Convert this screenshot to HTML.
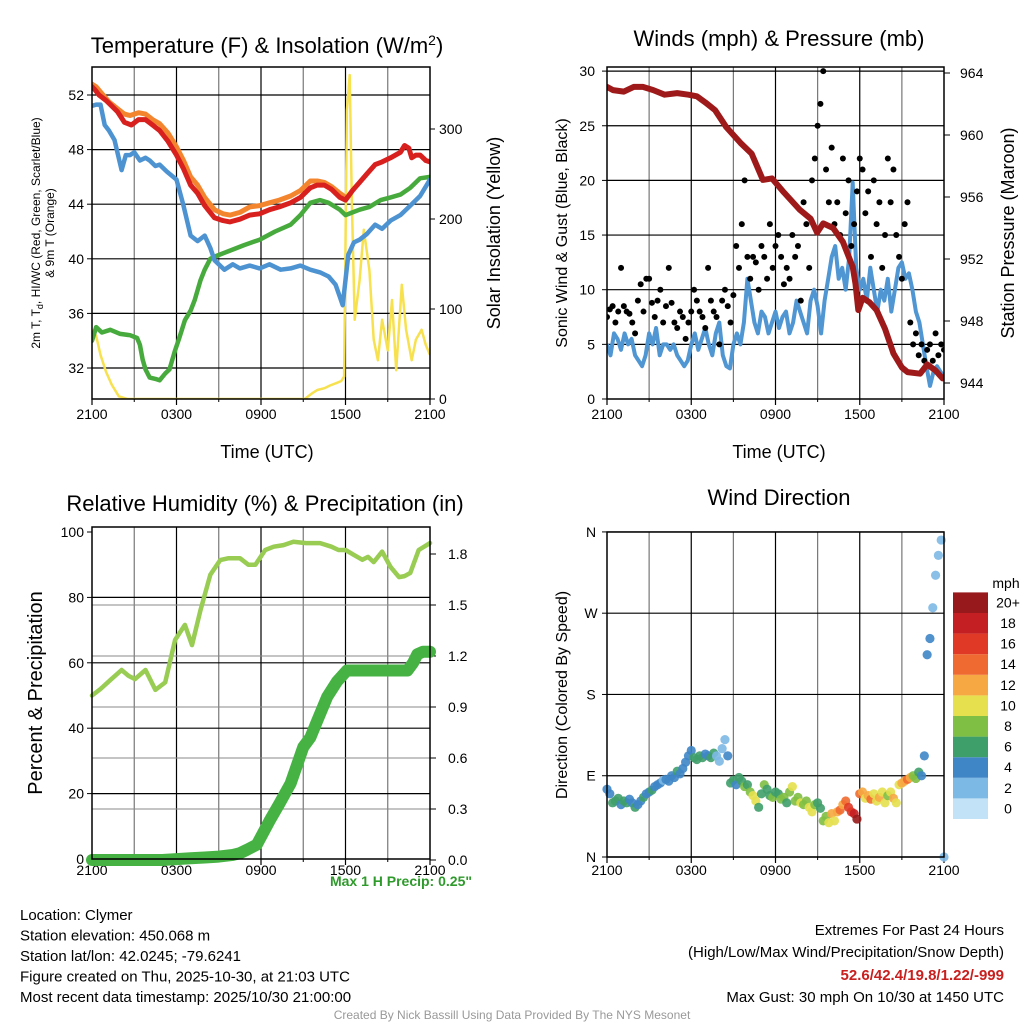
<!DOCTYPE html>
<html><head><meta charset="utf-8">
<style>
html,body{margin:0;padding:0;background:#fff;}
svg text{font-family:"Liberation Sans",Arial,sans-serif;}
</style></head>
<body>
<svg id="c" width="1024" height="1024" viewBox="0 0 1024 1024" xmlns="http://www.w3.org/2000/svg"></svg>
<script>
// ---- Temperature panel data (hours since 2100 UTC) ----
const redT=[0,0.2,0.5,1,1.3,1.8,2.3,2.8,3.3,3.8,4.3,4.8,5.4,6,6.5,7,7.5,8,8.7,9.3,9.8,10.5,11.2,11.9,12.6,13.3,14.1,14.8,15.5,16,16.5,17,17.6,18,18.5,19,19.5,20.1,20.6,21.2,21.9,22.2,22.5,22.7,23,23.3,23.7,24];
const redV=[52.6,52.4,52,51.6,51.3,50.8,50,49.8,50.2,50.2,49.8,49.4,48.6,47.6,46.6,45.4,44.8,43.9,43,42.8,42.7,42.9,43.2,43.3,43.6,43.8,44.1,44.5,45.2,45.4,45.4,45.1,44.5,44.3,45,45.6,46.2,46.9,47.1,47.4,47.8,48.3,48.1,47.4,47.6,47.6,47.2,47.1];
const orT=[0,0.3,0.7,1.2,1.8,2.3,2.7,3.3,3.8,4.3,4.8,5.4,6,6.5,7,7.5,8,8.7,9.3,9.8,10.5,11.2,11.9,12.6,13.3,14.1,14.8,15.5,16,16.5,17,17.6,18];
const orV=[52.8,52.6,52.1,51.5,51,50.6,50.5,50.7,50.6,50.2,49.9,49.2,48.2,47.2,46,45.4,44.5,43.6,43.3,43.2,43.4,43.8,43.9,44.1,44.3,44.6,45,45.7,45.7,45.6,45.3,44.8,44.5];
const dewT=[0,0.3,0.6,0.9,1.2,1.6,2.1,2.4,2.7,3,3.4,3.8,4.1,4.5,4.8,5.3,6,6.5,7,7.5,8,8.4,8.7,9.4,10,10.5,11.2,11.9,12.6,13.4,14.1,14.8,15.5,16.2,16.8,17.3,17.6,17.8,18.2,18.6,19,19.5,20.1,20.6,21.2,21.9,22.6,23.3,24];
const dewV=[51.2,51.3,51.3,49.8,49.4,48.7,46.5,47.6,47.6,47.8,47.2,47.4,47.2,46.8,46.9,46.4,45.8,43.9,41.7,41.3,41.7,40.8,39.9,39.2,39.6,39.3,39.5,39.3,39.6,39.2,39.3,39.5,39.2,39,38.7,38.1,37.2,36.6,40.3,41.2,41.4,41.8,42.5,42.2,42.8,43.2,43.9,44.6,45.8];
const hiT=[0,0.3,0.7,1.3,2,2.7,3.2,3.4,3.6,3.8,4.1,4.5,4.8,5.2,5.5,5.9,6.2,6.6,7,7.3,7.7,8,8.4,8.8,9.8,10.8,11.9,13,14.1,14.8,15.5,16.2,16.8,17.6,18,18.5,19,19.7,20.5,21.2,21.9,22.6,23.3,24];
const hiV=[34,35,34.6,34.8,34.5,34.4,34.2,33.7,32.6,31.9,31.3,31.2,31.1,31.6,31.9,33.3,34.2,35.5,36.2,37,38.4,39.2,40,40.2,40.6,41,41.4,42,42.5,43.2,44.1,44.3,44.1,43.6,43.2,43.4,43.6,43.8,44.3,44.5,44.7,45.2,45.9,46];
const solT=[0,0.3,0.6,1,1.4,1.9,2.5,15.1,15.6,16,16.5,16.9,17.4,17.7,17.9,18.1,18.3,18.45,18.65,19,19.3,19.7,20,20.3,20.6,21,21.3,21.6,22,22.3,22.7,23,23.4,23.7,24];
const solV=[77,70,49,30,16,3,0,0,6,10,12,15,18,20,25,321,360,221,88,132,188,143,66,43,88,54,110,32,127,77,43,66,77,60,49];
const tempTicks=[32,36,40,44,48,52];
const solTicks=[0,100,200,300];
const timeLabels=["2100","0300","0900","1500","2100"];
// ---- Wind panel data ----
const presT=[0,0.43,1.2,1.9,2.56,3.3,4.1,5,5.8,6.4,7,7.7,8.5,9.5,10.3,11.1,11.75,12.6,13.7,14.5,14.96,15.4,16.1,16.8,17.5,17.7,17.9,18.2,18.7,19.2,19.8,20.4,21,21.4,22.3,22.8,23.4,23.9];
const presV=[963.1,962.9,962.8,963.1,963.1,962.9,962.6,962.7,962.6,962.5,962.1,961.6,960.5,959.5,958.8,957.1,957.2,956.3,955.2,954.6,953.7,954.3,954,953.1,951.5,950.4,948.7,949.5,949.2,948.7,947.5,945.9,945,944.7,944.6,945.2,944.8,944.3];
// sonic wind every 0.25 h
const windV=[5,4,6,5.5,4.5,6,5,5.5,4,3.5,3,4,6,5,6.5,4,5,5,4.5,5,4,3.5,3,3.5,5,6,4.5,5.5,6.5,5,4,6,7,4,3,2.8,5,6,5,7,11,9,7,6,8,7.5,6,7,8,6.5,7.5,8,6,7,9,8,7,6,9,10,8.5,6,9,11,13,14,11,12,10,13,19.8,12,10,11,9,12,10,8,10,9,11,8,10,12,12.5,11,11.5,10,8,7,5,3,1.2,2.5,3,2.5,2];
const gustV=[7.5,8.2,8.5,7,8,12,8.5,8,7.8,7,6,9,10.5,8,11,11,8.8,7.5,9,10,7,8.5,12,8.8,7,6.5,8,7.5,5.5,7,8,10,9,8,7.5,6.5,12,9,8,7.5,5,9,10,8.5,7,9.5,14,12,16,20,13,11,13,12.5,10,14,13,11,16,12,14,15,13,10.5,12,11,15,13,14,9,18,16,12,20,22,25,27,30,21,18,23,16,18,15,22,17,20,14,16,19,22,21,17,19,13,20,16,18,12,15,22,18,21,15,13,11,16,18,7,5,6,4,5,3.5,4.5,5,3.5,6,4,5,4.5];
const windTicks=[0,5,10,15,20,25,30];
const presTicks=[944,948,952,956,960,964];
// ---- RH panel data ----
const rhT=[0,0.6,1.3,2.1,2.6,3.05,3.8,4.5,5.2,5.9,6.6,7.1,7.7,8.4,9.1,9.7,10.5,11.1,11.6,12.3,12.9,13.6,14.3,15.2,16.2,17,17.5,18,18.6,19.2,19.6,20,20.6,21.2,21.8,22.2,22.6,23.2,24];
const rhV=[50,52,54.7,57.8,56,55,57.8,51.7,54,67,71.6,65.4,76,86.9,91.4,92,92,90,90,94.5,95.5,96,97,96.6,96.6,95.5,94.5,94.5,93,91.5,92.4,90.8,94,89.3,86.2,86.5,87.5,94.5,96.6];
const prT=[0,5,7,8,9,10,10.5,11,11.7,12.6,13.3,14.1,15,15.5,16,16.7,17.4,18.1,19,20,21,22.4,22.8,23.1,23.5,24];
const prV=[0,0,0.01,0.015,0.02,0.03,0.04,0.06,0.09,0.23,0.33,0.45,0.665,0.72,0.82,0.96,1.05,1.115,1.115,1.115,1.115,1.115,1.16,1.21,1.225,1.225];
const rhTicks=[0,20,40,60,80,100];
const prTicks=["0.0","0.3","0.6","0.9","1.2","1.5","1.8"];
// ---- Wind direction data (every 0.2 h) ----
const dirV=[75,70,60,62,65,58,62,60,64,60,55,58,62,66,70,72,74,78,80,82,85,86,84,90,88,95,92,98,105,112,118,110,108,112,110,114,112,110,115,112,106,120,130,112,82,85,80,88,84,78,80,72,68,62,55,70,80,75,68,66,72,70,64,66,60,72,78,62,66,60,58,62,55,50,58,60,54,40,45,38,48,40,50,52,58,62,55,50,48,42,70,72,65,68,64,70,62,66,72,60,68,72,65,60,80,82,84,86,88,90,87,94,90,112,224,242,276,312,334,351,0];
const spdV=[4,4,6,6,6,4,6,6,4,4,6,4,4,6,4,4,6,4,4,4,2,4,4,4,4,6,4,4,4,4,4,6,6,6,6,4,4,6,6,2,2,2,2,4,6,6,4,6,6,8,6,8,10,10,6,6,8,6,6,8,6,6,8,8,6,8,10,8,8,10,8,8,10,10,8,6,6,8,8,10,12,10,12,14,12,14,16,16,18,20,14,12,10,12,14,10,10,12,10,10,8,10,12,10,10,12,12,14,12,8,8,6,4,4,4,4,2,2,2,2,2,2];
const dirLabels=["N","E","S","W","N"];
const cbLabels=["0","2","4","6","8","10","12","14","16","18","20+"];
const cbColors=["#c2e3f7","#7db9e5","#3f86c6","#3f9f6a","#7fbf44","#e6e04e","#f6a843","#ef6a30","#e03a26","#c41f22","#98191b"];

const NS="http://www.w3.org/2000/svg";
const svg=document.getElementById('c');
function mk(tag,attrs,parent){const e=document.createElementNS(NS,tag);for(const k in attrs)e.setAttribute(k,attrs[k]);(parent||svg).appendChild(e);return e;}
function txt(s,x,y,size,anchor,extra,parent){const e=mk('text',Object.assign({x:x,y:y,'font-size':size,'text-anchor':anchor||'middle',fill:'#000'},extra||{}),parent);e.textContent=s;return e;}
function lineFrom(ts,vs,xf,yf){return ts.map((t,i)=>(i?'L':'M')+xf(t).toFixed(1)+','+yf(vs[i]).toFixed(1)).join('');}

function panel(name,x0,y0,x1,y1,labOff){
  const g=mk('g',{});
  
  
  const xf=t=>x0+(x1-x0)*t/24;
  for(let h=3;h<24;h+=3){const l=mk('line',{x1:xf(h),x2:xf(h),y1:y0,y2:y1,stroke:(h%6==0)?'#000':'#777','stroke-width':1.2},g);
    }
  for(let i=0;i<5;i++){const x=xf(i*6);mk('line',{x1:x,x2:x,y1:y1,y2:y1+6,stroke:'#000','stroke-width':1.2},g);
    const t=txt(timeLabels[i],x,y1+labOff,14,'middle',{},g);}
  for(let h=3;h<24;h+=6){mk('line',{x1:xf(h),x2:xf(h),y1:y1,y2:y1+3,stroke:'#000'},g);}
  return {g,xf};
}
function frame(g,x0,y0,x1,y1){const r=mk('rect',{x:x0,y:y0,width:x1-x0,height:y1-y0,fill:'none',stroke:'#000','stroke-width':1.5},g);
  }

// ===== Panel 1: Temperature =====
(function(){
  const X0=92,Y0=67,X1=430,Y1=399;
  const {g,xf}=panel('temperature-panel',X0,Y0,X1,Y1,20);
  const yT=v=>368-(v-32)*13.65;
  const yS=v=>399-v*0.9;
  tempTicks.forEach(v=>{const l=mk('line',{x1:X0,x2:X1,y1:yT(v),y2:yT(v),stroke:'#000','stroke-width':1.2},g);
    mk('line',{x1:X0-5,x2:X0,y1:yT(v),y2:yT(v),stroke:'#000'},g);
    const t=txt(String(v),X0-8,yT(v)+5,14,'end',{},g);});
  solTicks.forEach(v=>{mk('line',{x1:X1,x2:X1+5,y1:yS(v),y2:yS(v),stroke:'#000'},g);
    const t=txt(String(v),X1+9,yS(v)+5,14,'start',{},g);});
  const cp=mk('clipPath',{id:'cp1'},g);mk('rect',{x:X0,y:Y0,width:X1-X0,height:Y1-Y0},cp);
  const s=mk('g',{'clip-path':'url(#cp1)'},g);
  const sol=mk('path',{d:lineFrom(solT,solV,xf,yS),fill:'none',stroke:'#f7e14f','stroke-width':2.5,'stroke-linejoin':'round'},s);
  
  const hi=mk('path',{d:lineFrom(hiT,hiV,xf,yT),fill:'none',stroke:'#47aa3c','stroke-width':4.5,'stroke-linejoin':'round','stroke-linecap':'round'},s);
  
  const dw=mk('path',{d:lineFrom(dewT,dewV,xf,yT),fill:'none',stroke:'#4d93d2','stroke-width':4.5,'stroke-linejoin':'round','stroke-linecap':'round'},s);
  
  const or=mk('path',{d:lineFrom(orT,orV,xf,yT),fill:'none',stroke:'#f4852f','stroke-width':5,'stroke-linejoin':'round','stroke-linecap':'round'},s);
  
  const rd=mk('path',{d:lineFrom(redT,redV,xf,yT),fill:'none',stroke:'#d8211f','stroke-width':5,'stroke-linejoin':'round','stroke-linecap':'round'},s);
  
  frame(g,X0,Y0,X1,Y1);
  const tt=txt('',267,53,22,'middle',{},g);tt.innerHTML='Temperature (F) &amp; Insolation (W/m<tspan dy="-8" font-size="14">2</tspan><tspan dy="8">)</tspan>';
  
  const xt=txt('Time (UTC)',267,458,18,'middle',{},g);
  const yl=mk('text',{x:0,y:0,'font-size':12,'text-anchor':'middle',transform:'translate(40,233) rotate(-90)'},g);
  yl.innerHTML='2m T, T<tspan dy="3" font-size="9">d</tspan><tspan dy="-3">, HI/WC (Red, Green, Scarlet/Blue)</tspan>';
  
  const yl2=txt('& 9m T (Orange)',0,0,12,'middle',{transform:'translate(54,233) rotate(-90)'},g);
  const yr=txt('Solar Insolation (Yellow)',0,0,18,'middle',{transform:'translate(500,233) rotate(-90)'},g);
})();

// ===== Panel 2: Winds =====
(function(){
  const X0=607,Y0=67,X1=944,Y1=399;
  const {g,xf}=panel('winds-panel',X0,Y0,X1,Y1,20);
  const yW=v=>399-v*10.93;
  const yP=v=>383-(v-944)*15.5;
  windTicks.forEach(v=>{if(v>0){const l=mk('line',{x1:X0,x2:X1,y1:yW(v),y2:yW(v),stroke:'#000','stroke-width':1.2},g);}
    mk('line',{x1:X0-5,x2:X0,y1:yW(v),y2:yW(v),stroke:'#000'},g);
    const t=txt(String(v),X0-12,yW(v)+5,14,'end',{},g);});
  presTicks.forEach(v=>{mk('line',{x1:X1,x2:X1+6,y1:yP(v),y2:yP(v),stroke:'#000'},g);
    const t=txt(String(v),X1+16,yP(v)+5,14,'start',{},g);});
  const cp=mk('clipPath',{id:'cp2'},g);mk('rect',{x:X0,y:Y0-4,width:X1-X0,height:Y1-Y0+4},cp);
  const s=mk('g',{'clip-path':'url(#cp2)'},g);
  const windT=windV.map((v,i)=>i*0.25);
  const wl=mk('path',{d:lineFrom(windT,windV,xf,yW),fill:'none',stroke:'#4f96d3','stroke-width':4,'stroke-linejoin':'round'},s);
  
  gustV.forEach((v,i)=>{const c=mk('circle',{cx:xf(i*0.2),cy:yW(v),r:3,fill:'#000'},s);
    
    });
  const pl=mk('path',{d:lineFrom(presT,presV,xf,yP),fill:'none',stroke:'#9e1a1a','stroke-width':6,'stroke-linejoin':'round','stroke-linecap':'round'},s);
  
  frame(g,X0,Y0,X1,Y1);
  const tt=txt('Winds (mph) & Pressure (mb)',779,46,22,'middle',{},g);
  const xt=txt('Time (UTC)',779,458,18,'middle',{},g);
  const yl=txt('Sonic Wind & Gust (Blue, Black)',0,0,16,'middle',{transform:'translate(567,233) rotate(-90)'},g);
  const yr=txt('Station Pressure (Maroon)',0,0,18,'middle',{transform:'translate(1014,233) rotate(-90)'},g);
})();

// ===== Panel 3: RH & Precip =====
(function(){
  const X0=92,Y0=527,X1=430,Y1=859;
  const {g,xf}=panel('humidity-precip-panel',X0,Y0,X1,Y1,16);
  const yR=v=>859-v*3.27;
  const yPr=v=>860-v*170;
  rhTicks.forEach(v=>{if(v>0&&v<100){const l=mk('line',{x1:X0,x2:X1,y1:yR(v),y2:yR(v),stroke:'#000','stroke-width':1.2},g);}
    mk('line',{x1:X0-5,x2:X0,y1:yR(v),y2:yR(v),stroke:'#000'},g);
    const t=txt(String(v),X0-8,yR(v)+5,14,'end',{},g);});
  prTicks.forEach(v=>{const y=yPr(parseFloat(v));mk('line',{x1:X1,x2:X1+6,y1:y,y2:y,stroke:'#000'},g);
    if(parseFloat(v)>0&&parseFloat(v)<1.8){mk('line',{x1:X0,x2:X1,y1:y,y2:y,stroke:'#888','stroke-width':1},g);}
    const t=txt(v,X1+18,y+5,14,'start',{},g);});
  const rl=mk('path',{d:lineFrom(rhT,rhV,xf,yR),fill:'none',stroke:'#98cc52','stroke-width':4.5,'stroke-linejoin':'round','stroke-linecap':'round'},g);
  
  const pl=mk('path',{d:lineFrom(prT,prV,xf,yPr),fill:'none',stroke:'#46b244','stroke-width':12,'stroke-linejoin':'round','stroke-linecap':'round'},g);
  
  frame(g,X0,Y0,X1,Y1);
  const tt=txt('Relative Humidity (%) & Precipitation (in)',265,511,22,'middle',{},g);
  const yl=txt('Percent & Precipitation',0,0,20,'middle',{transform:'translate(42,693) rotate(-90)'},g);
  const mp=txt('Max 1 H Precip: 0.25"',472,886,14,'end',{fill:'#2f9a2c','font-weight':'bold'},g);
})();

// ===== Panel 4: Wind direction =====
(function(){
  const X0=607,Y0=532,X1=944,Y1=857;
  const {g,xf}=panel('wind-direction-panel',X0,Y0,X1,Y1,18);
  const yD=v=>857-v*0.903;
  dirLabels.forEach((s,i)=>{const y=yD(i*90);const l=mk('line',{x1:X0,x2:X1,y1:y,y2:y,stroke:'#000','stroke-width':1.2},g);
    mk('line',{x1:X0-5,x2:X0,y1:y,y2:y,stroke:'#000'},g);
    const t=txt(s,X0-16,y+5,14,'middle',{},g);});
  dirV.forEach((d,i)=>{const c=mk('circle',{cx:xf(i*0.2),cy:yD(d),r:4.6,fill:cbColors[Math.min(10,Math.floor(spdV[i]/2))],'fill-opacity':0.9},g);
    
    });
  frame(g,X0,Y0,X1,Y1);
  const tt=txt('Wind Direction',779,505,22,'middle',{},g);
  const yl=txt('Direction (Colored By Speed)',0,0,16,'middle',{transform:'translate(567,695) rotate(-90)'},g);
  const cb=mk('g',{},g);
  const ut=txt('mph',1006,588,14,'middle',{},cb);
  cbColors.forEach((c,i)=>{const y=819-(i+1)*20.6;const r=mk('rect',{x:953,y:y,width:35,height:20.6,fill:c},cb);
    
    const t=txt(cbLabels[i],1008,y+15,14,'middle',{},cb);});
})();

// ===== Footer text =====
const leftInfo=["Location: Clymer","Station elevation: 450.068 m","Station lat/lon: 42.0245; -79.6241","Figure created on Thu, 2025-10-30, at 21:03 UTC","Most recent data timestamp: 2025/10/30 21:00:00"];
leftInfo.forEach((s,i)=>{const t=txt(s,20,920+i*20.5,15,'start');});
[["Extremes For Past 24 Hours",935,{}],["(High/Low/Max Wind/Precipitation/Snow Depth)",957,{}],["52.6/42.4/19.8/1.22/-999",980,{fill:'#c8201f','font-weight':'bold'}],["Max Gust: 30 mph On 10/30 at 1450 UTC",1002,{}]].forEach(a=>{const t=txt(a[0],1004,a[1],15,'end',a[2]);});
const cr=txt('Created By Nick Bassill Using Data Provided By The NYS Mesonet',512,1019,12,'middle',{fill:'#999'});

</script>
</body></html>
